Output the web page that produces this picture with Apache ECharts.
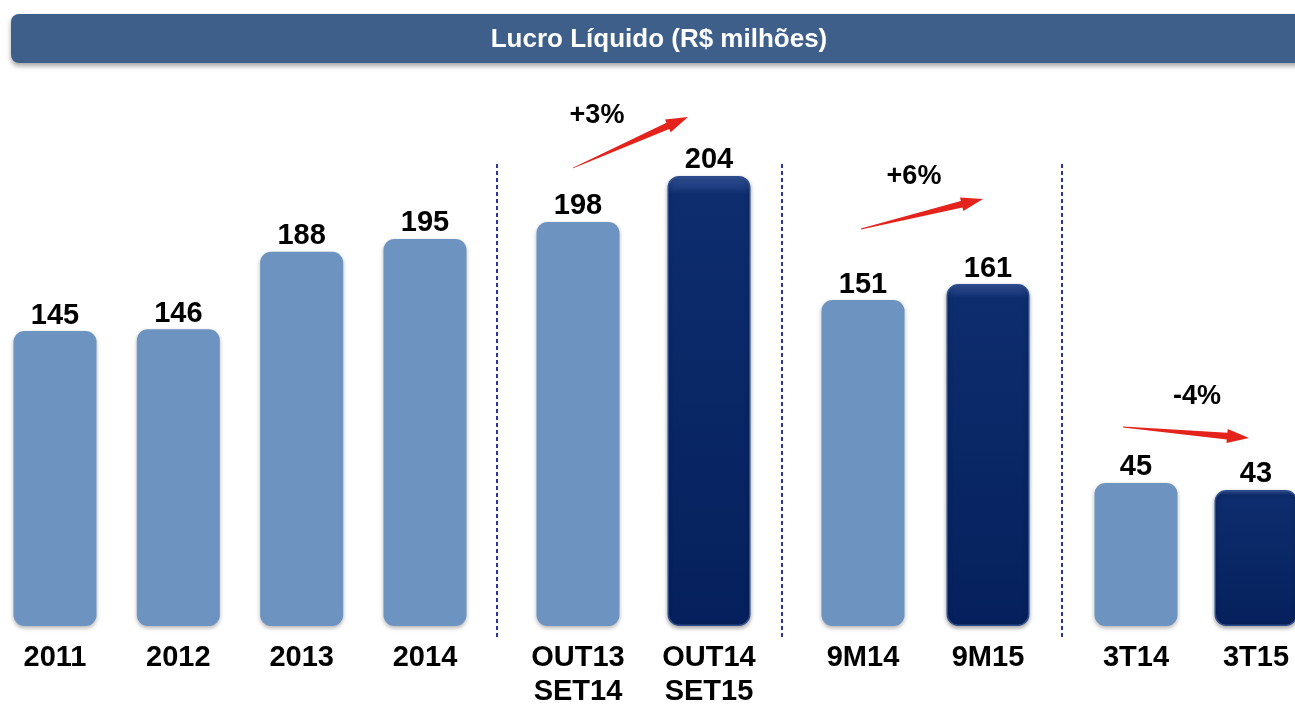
<!DOCTYPE html>
<html><head><meta charset="utf-8">
<script src="https://cdn.jsdelivr.net/npm/echarts@6/dist/echarts.min.js"></script>
<style>html,body{margin:0;padding:0;background:#fff}#c{width:1295px;height:704px}</style>
</head><body><div id="c"></div>
<script>
const titleText = 'Lucro Líquido (R$ milhões)';
const catYears = ['2011', '2012', '2013', '2014'];
const valYears = [145, 146, 188, 195];
const catLtm = ['OUT13\nSET14', 'OUT14\nSET15'];
const valLtm = [198, 204];
const cat9M = ['9M14', '9M15'];
const val9M = [151, 161];
const cat3T = ['3T14', '3T15'];
const val3T = [45, 43];
const changeLabels = ['+3%', '+6%', '-4%'];

const FONT = '"Liberation Sans", Arial, sans-serif';
const LIGHT = '#6d93c0';
const DARK = {type: 'linear', x: 0, y: 0, x2: 0, y2: 1, colorStops: [
  {offset: 0, color: '#34559a'}, {offset: 0.04, color: '#0e2d6e'}, {offset: 1, color: '#05205c'}]};

const groups = [
  {cats: catYears, vals: valYears, left: 55, right: 425, min: -15, max: 270.4, hasDark: false},
  {cats: catLtm, vals: valLtm, left: 578, right: 709, min: 145.3, max: 213.9, hasDark: true},
  {cats: cat9M, vals: val9M, left: 863, right: 988, min: -52.75, max: 276, hasDark: true},
  {cats: cat3T, vals: val3T, left: 1136, right: 1256, min: 4.14, max: 154.4, hasDark: true}
];

const labelStyle = {show: true, position: 'top', distance: 1, color: '#000', fontFamily: FONT, fontWeight: 'bold', fontSize: 29};
const grids = [], xAxes = [], yAxes = [], series = [];
groups.forEach((g, i) => {
  grids.push({left: g.left, width: g.right - g.left, top: 100, bottom: 78, outerBoundsMode: 'none', containLabel: false});
  xAxes.push({type: 'category', gridIndex: i, data: g.cats, boundaryGap: false,
    axisLine: {show: false}, axisTick: {show: false}, splitLine: {show: false},
    axisLabel: {margin: 15, color: '#000', fontFamily: FONT, fontWeight: 'bold', fontSize: 29, lineHeight: 34, interval: 0}});
  yAxes.push({type: 'value', gridIndex: i, min: g.min, max: g.max, startValue: g.min, show: false});
  const last = g.vals.length - 1;
  const base = {type: 'bar', xAxisIndex: i, yAxisIndex: i, barWidth: 83, barGap: '-100%', label: labelStyle};
  series.push(Object.assign({}, base, {
    data: g.vals.map((v, j) => (g.hasDark && j === last) ? '-' : v),
    itemStyle: {color: LIGHT, borderRadius: 11, shadowBlur: 4, shadowOffsetY: 2, shadowColor: 'rgba(0,0,0,0.3)'}
  }));
  if (g.hasDark) {
    series.push(Object.assign({}, base, {
      data: g.vals.map((v, j) => j === last ? v : '-'),
      itemStyle: {color: DARK, borderColor: '#2c4c8e', borderWidth: 1.5, borderRadius: 11, shadowBlur: 4, shadowOffsetY: 2, shadowColor: 'rgba(0,0,0,0.35)'}
    }));
  }
});

function arrowPts(x1, y1, x2, y2) {
  const dx = x2 - x1, dy = y2 - y1, L = Math.hypot(dx, dy);
  const ux = dx / L, uy = dy / L, nx = -uy, ny = ux;
  const hl = 22, hw = 7, sw = 3.4, tw = 0.4;
  const bx = x2 - ux * hl, by = y2 - uy * hl;
  return [[x1 + nx * tw, y1 + ny * tw], [bx + nx * sw, by + ny * sw], [bx + nx * hw, by + ny * hw], [x2, y2],
          [bx - nx * hw, by - ny * hw], [bx - nx * sw, by - ny * sw], [x1 - nx * tw, y1 - ny * tw]];
}
const arrows = [[573, 168, 688, 117], [861, 229, 983, 199], [1123, 427, 1249, 438]];
const pctPos = [[597, 116], [914, 177], [1197, 397]];
const dividersX = [497, 782, 1062];

const graphic = [
  {type: 'rect', z: 10, shape: {x: 11, y: 14, width: 1330, height: 49, r: 8},
   style: {fill: '#3f5f8b', shadowBlur: 5, shadowOffsetY: 3, shadowColor: 'rgba(0,0,0,0.35)'}},
  {type: 'text', z: 11, x: 659, y: 40, style: {text: titleText, fill: '#fff', fontFamily: FONT, fontWeight: 'bold', fontSize: 26, align: 'center', verticalAlign: 'middle'}}
];
dividersX.forEach(x => graphic.push({type: 'line', z: 5, shape: {x1: x, y1: 164, x2: x, y2: 640},
  style: {stroke: '#2d33a0', lineWidth: 2, lineDash: [4, 3]}}));
arrows.forEach(a => graphic.push({type: 'polygon', z: 5, shape: {points: arrowPts(a[0], a[1], a[2], a[3])},
  style: {fill: '#e3231c'}}));
changeLabels.forEach((t, i) => graphic.push({type: 'text', z: 5, x: pctPos[i][0], y: pctPos[i][1],
  style: {text: t, fill: '#000', fontFamily: FONT, fontWeight: 'bold', fontSize: 27, align: 'center', verticalAlign: 'middle'}}));

const chart = echarts.init(document.getElementById('c'), null, {renderer: 'canvas'});
chart.setOption({
  animation: false,
  backgroundColor: '#fff',
  grid: grids, xAxis: xAxes, yAxis: yAxes, series: series, graphic: graphic
});
</script></body></html>
